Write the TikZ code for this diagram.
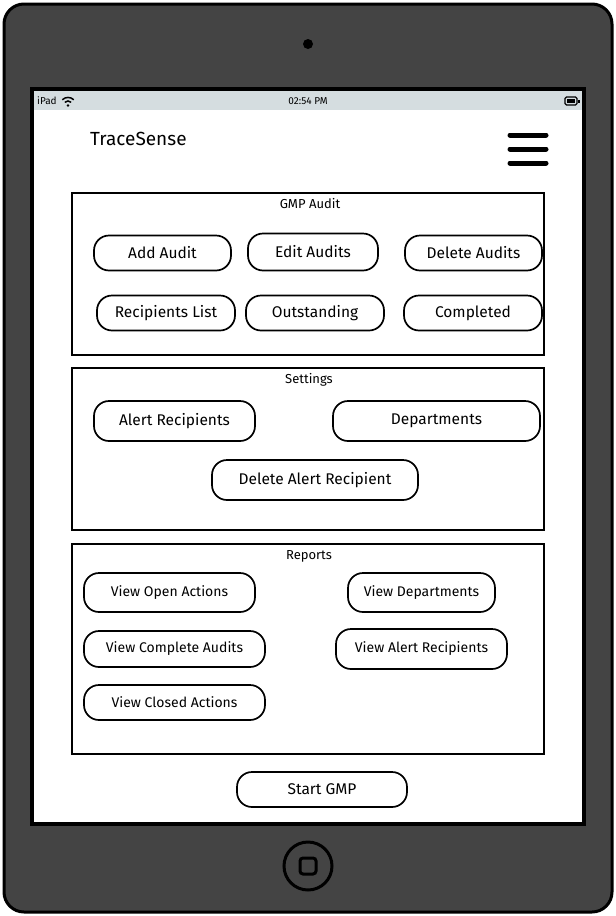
\documentclass[tikz,border=0pt]{standalone}
\usepackage{fontspec}
\setmainfont{Fira Sans}
\definecolor{devgray}{HTML}{444444}
\definecolor{barcol}{HTML}{D5DDE0}
\tikzset{
  btn/.style={draw=black, line width=1.7pt, rounded corners=15pt, fill=white, inner sep=0pt, font=\fontsize{15.5}{18}\selectfont},
  rbtn/.style={btn, font=\fontsize{14}{16}\selectfont},
  panel/.style={draw=black, line width=2pt, fill=white},
  ptitle/.style={font=\fontsize{13}{15}\selectfont, inner sep=0pt},
}
\begin{document}
\begin{tikzpicture}[x=1pt,y=-1pt]
\useasboundingbox (0,0) rectangle (616,916);
% device
\draw[line width=3pt, fill=devgray, rounded corners=20pt] (4,4) rectangle (612,912);
\fill[black] (308,44) circle (5);
% screen
\draw[line width=3.5pt, fill=white] (32,89) rectangle (584,824);
\fill[barcol] (34,91) rectangle (582,110);
\node[font=\fontsize{10}{11}\selectfont, anchor=west, inner sep=0pt] (ipad) at (37,101) {iPad};
% wifi
\coordinate (wifi) at (68,105.5);
\fill (wifi) circle (1.4);
\draw[line width=1.5pt] ([shift={(-3.2,-3.2)}]wifi) arc[start angle=225, end angle=315, radius=4.5];
\draw[line width=1.5pt] ([shift={(-5.7,-5.7)}]wifi) arc[start angle=225, end angle=315, radius=8.1];
\node[font=\fontsize{10}{11}\selectfont, inner sep=0pt] (time) at (308,101) {02:54 PM};
% battery
\draw[line width=1.2pt, rounded corners=1.5pt] (565,97) rectangle (577,105);
\fill (567,99) rectangle (575,103);
\fill (578,99.5) rectangle (579.5,102.5);
% header
\node[font=\fontsize{19}{22}\selectfont, anchor=west, inner sep=0pt] (title) at (90,139) {TraceSense};
\foreach \yy in {135,149,163}{
  \draw[line width=5pt, line cap=round] (510,\yy) -- (546,\yy);
}
% GMP Audit panel
\draw[panel] (72,193) rectangle (544,355);
\node[ptitle] (t1) at (310,204) {GMP Audit};
\node[btn, minimum width=137pt, minimum height=35pt] (add) at (162.5,253) {Add Audit};
\node[btn, minimum width=130pt, minimum height=37pt] (edit) at (313,252) {Edit Audits};
\node[btn, minimum width=137pt, minimum height=35pt] (del) at (473.5,253) {Delete Audits};
\node[btn, minimum width=138pt, minimum height=35pt] (rec) at (166,313) {Recipients List};
\node[btn, minimum width=138pt, minimum height=35pt] (out) at (315,313) {Outstanding};
\node[btn, minimum width=138pt, minimum height=35pt] (comp) at (473,313) {Completed};
% Settings panel
\draw[panel] (72,368) rectangle (544,530);
\node[ptitle] (t2) at (309,380) {Settings};
\node[btn, minimum width=161pt, minimum height=40pt] (alert) at (174.5,421) {Alert Recipients};
\node[btn, minimum width=207pt, minimum height=40pt] (dept) at (436.5,421) {Departments};
\node[btn, minimum width=206pt, minimum height=40pt] (delalert) at (315,480) {Delete Alert Recipient};
% Reports panel
\draw[panel] (72,544) rectangle (544,754);
\node[ptitle] (t3) at (309,556) {Reports};
\node[rbtn, minimum width=171pt, minimum height=39pt] (vopen) at (169.5,592.5) {View Open Actions};
\node[rbtn, minimum width=147pt, minimum height=39pt] (vdept) at (421.5,592.5) {View Departments};
\node[rbtn, minimum width=181pt, minimum height=36pt] (vcomp) at (174.5,649) {View Complete Audits};
\node[rbtn, minimum width=171pt, minimum height=40pt] (valert) at (421.5,649) {View Alert Recipients};
\node[rbtn, minimum width=181pt, minimum height=35pt] (vclosed) at (174.5,702.5) {View Closed Actions};
% Start
\node[btn, minimum width=170pt, minimum height=35pt] (start) at (322,789.5) {Start GMP};
% home button
\draw[line width=3pt] (308,866) circle (24);
\draw[line width=3pt, rounded corners=3pt] (300,858) rectangle (316,874);
\end{tikzpicture}
\end{document}
